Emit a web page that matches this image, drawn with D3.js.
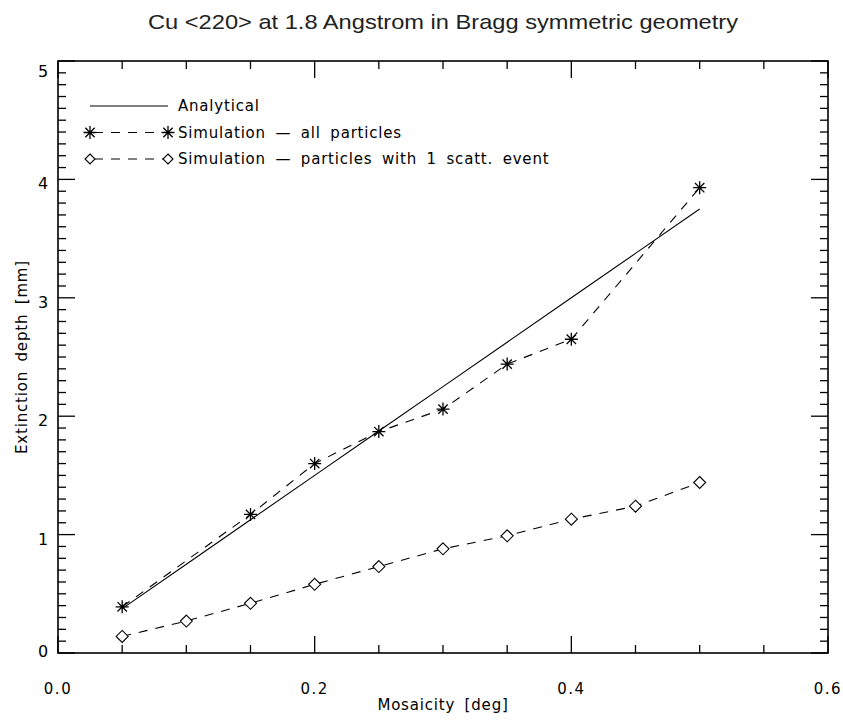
<!DOCTYPE html>
<html>
<head>
<meta charset="utf-8">
<script src="https://cdn.jsdelivr.net/npm/d3@7"></script>
<style>
  body { margin: 0; background: #fff; }
  svg { display: block; }
</style>
</head>
<body>
<figure id="chart" style="margin:0"></figure>
<script>
// data
const mosaicity = [0.05, 0.10, 0.15, 0.20, 0.25, 0.30, 0.35, 0.40, 0.45, 0.50];
const analytical = [0.375, 0.75, 1.125, 1.5, 1.875, 2.25, 2.625, 3.0, 3.375, 3.75];
const allMosaicity = [0.05, 0.15, 0.20, 0.25, 0.30, 0.35, 0.40, 0.50];
const allParticles = [0.39, 1.17, 1.60, 1.87, 2.06, 2.44, 2.65, 3.93];
const singleScatt = [0.14, 0.27, 0.42, 0.58, 0.73, 0.88, 0.99, 1.13, 1.24, 1.44];
const xTickLabels = ["0.0", "0.2", "0.4", "0.6"];
const yTickLabels = ["0", "1", "2", "3", "4", "5"];
const legendLabels = ["Analytical", "Simulation \u2014 all particles", "Simulation \u2014 particles with 1 scatt. event"];

const W = 843, H = 722;
const margin = {top: 61, right: 15, bottom: 69, left: 58};
const width = W - margin.left - margin.right;
const height = H - margin.top - margin.bottom;
const font = "'DejaVu Sans', sans-serif";

const svg = d3.select("figure#chart")
  .append("svg")
  .attr("width", W)
  .attr("height", H);

const g = svg.append("g")
  .attr("transform", "translate(" + margin.left + "," + margin.top + ")");

const x = d3.scaleLinear().domain([0, 0.6]).range([0, width]);
const y = d3.scaleLinear().domain([0, 5]).range([height, 0]);

// small helper for the vector-font look of the labels
const hershey = (sel, size) => sel
  .style("font-family", font)
  .style("font-size", size + "px")
  .style("letter-spacing", "0.8px")
  .style("word-spacing", "4px");

// title
svg.append("text")
  .attr("x", margin.left + width / 2)
  .attr("y", 29)
  .attr("text-anchor", "middle")
  .attr("fill", "#222")
  .style("font-family", "'Liberation Sans Narrow', 'Liberation Sans', Arial, sans-serif")
  .style("font-size", "21px")
  .attr("textLength", 590)
  .attr("lengthAdjust", "spacingAndGlyphs")
  .text("Cu <220> at 1.8 Angstrom in Bragg symmetric geometry");

// ticks on all four sides, IDL style (inward)
const xMinor = d3.range(0, 0.6001, 0.05);
const yMinor = d3.range(0, 5.0001, 0.1);
const isMajorX = v => Math.abs(v / 0.2 - Math.round(v / 0.2)) < 1e-6;
const isMajorY = v => Math.abs(v - Math.round(v)) < 1e-6;

const ticks = g.append("g").attr("stroke", "#000").attr("stroke-width", 1.3);
ticks.selectAll("line.xb").data(xMinor).enter().append("line")
  .attr("x1", d => x(d)).attr("x2", d => x(d))
  .attr("y1", height).attr("y2", d => height - (isMajorX(d) ? 17 : 8));
ticks.selectAll("line.xt").data(xMinor).enter().append("line")
  .attr("x1", d => x(d)).attr("x2", d => x(d))
  .attr("y1", 0).attr("y2", d => (isMajorX(d) ? 17 : 8));
ticks.selectAll("line.yl").data(yMinor).enter().append("line")
  .attr("y1", d => y(d)).attr("y2", d => y(d))
  .attr("x1", 0).attr("x2", d => (isMajorY(d) ? 17 : 8));
ticks.selectAll("line.yr").data(yMinor).enter().append("line")
  .attr("y1", d => y(d)).attr("y2", d => y(d))
  .attr("x1", width).attr("x2", d => width - (isMajorY(d) ? 17 : 8));

// frame
g.append("rect")
  .attr("width", width).attr("height", height)
  .attr("fill", "none").attr("stroke", "#000").attr("stroke-width", 1.6);

// tick labels
g.selectAll("text.xl").data(xTickLabels).enter().append("text")
  .attr("x", d => x(+d)).attr("y", height + 41)
  .attr("text-anchor", "middle")
  .call(hershey, 15)
  .style("letter-spacing", "1.5px")
  .text(d => d);
g.selectAll("text.yl").data(yTickLabels).enter().append("text")
  .attr("x", -9).attr("y", d => y(+d) + (+d === 0 ? 4 : +d === 5 ? 16 : 10))
  .attr("text-anchor", "end")
  .call(hershey, 16)
  .text(d => d);

// axis titles
svg.append("text")
  .attr("x", margin.left + width / 2).attr("y", H - 12)
  .attr("text-anchor", "middle")
  .call(hershey, 15)
  .text("Mosaicity [deg]");
svg.append("text")
  .attr("transform", "translate(27," + (margin.top + height / 2) + ") rotate(-90)")
  .attr("text-anchor", "middle")
  .call(hershey, 15)
  .text("Extinction depth [mm]");

// lines
const line = d3.line().x(d => x(d[0])).y(d => y(d[1]));

g.append("path")
  .datum(d3.zip(mosaicity, analytical))
  .attr("d", line)
  .attr("fill", "none").attr("stroke", "#000").attr("stroke-width", 1.1);

g.append("path")
  .datum(d3.zip(allMosaicity, allParticles))
  .attr("d", line)
  .attr("fill", "none").attr("stroke", "#000").attr("stroke-width", 1.1)
  .attr("stroke-dasharray", "9,8");

g.append("path")
  .datum(d3.zip(mosaicity, singleScatt))
  .attr("d", line)
  .attr("fill", "none").attr("stroke", "#000").attr("stroke-width", 1.1)
  .attr("stroke-dasharray", "9,8");

// markers
const starPath = r => {
  const a = r * 0.72;
  return "M" + (-r) + ",0H" + r + "M0," + (-r) + "V" + r +
    "M" + (-a) + "," + (-a) + "L" + a + "," + a + "M" + (-a) + "," + a + "L" + a + "," + (-a);
};
const diamondPath = r => "M0," + (-r) + "L" + r + ",0L0," + r + "L" + (-r) + ",0Z";

g.selectAll("path.star").data(d3.zip(allMosaicity, allParticles)).enter().append("path")
  .attr("transform", d => "translate(" + x(d[0]) + "," + y(d[1]) + ")")
  .attr("d", starPath(6.5))
  .attr("fill", "none").attr("stroke", "#000").attr("stroke-width", 1.3);

g.selectAll("path.diam").data(d3.zip(mosaicity, singleScatt)).enter().append("path")
  .attr("transform", d => "translate(" + x(d[0]) + "," + y(d[1]) + ")")
  .attr("d", diamondPath(6))
  .attr("fill", "#fff").attr("stroke", "#000").attr("stroke-width", 1.1);

// legend
const leg = svg.append("g").attr("transform", "translate(90,106)");
const rowH = 26.5;
leg.append("line").attr("x1", 0).attr("x2", 78).attr("y1", 0).attr("y2", 0)
  .attr("stroke", "#000").attr("stroke-width", 1.1);
leg.append("line").attr("x1", 0).attr("x2", 78).attr("y1", rowH).attr("y2", rowH)
  .attr("stroke", "#000").attr("stroke-width", 1.1).attr("stroke-dasharray", "9,8")
  .attr("stroke-dashoffset", -4);
leg.append("line").attr("x1", 0).attr("x2", 78).attr("y1", 2 * rowH).attr("y2", 2 * rowH)
  .attr("stroke", "#000").attr("stroke-width", 1.1).attr("stroke-dasharray", "9,8")
  .attr("stroke-dashoffset", -4);
[0, 78].forEach(px => {
  leg.append("path").attr("transform", "translate(" + px + "," + rowH + ")")
    .attr("d", starPath(6.5)).attr("fill", "none").attr("stroke", "#000").attr("stroke-width", 1.3);
  leg.append("path").attr("transform", "translate(" + px + "," + (2 * rowH) + ")")
    .attr("d", diamondPath(5)).attr("fill", "#fff").attr("stroke", "#000").attr("stroke-width", 1.1);
});
leg.selectAll("text").data(legendLabels).enter().append("text")
  .attr("x", 88).attr("y", (d, i) => i * rowH + 5)
  .call(hershey, 15)
  .text(d => d);
</script>
</body>
</html>
